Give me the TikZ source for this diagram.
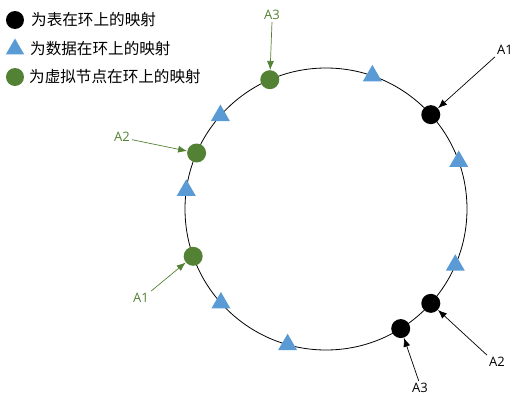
\documentclass[tikz,border=0pt]{standalone}
\usepackage{fontspec}
\newfontfamily\cjk{Noto Sans CJK SC}
\setmainfont{Open Sans}
\usetikzlibrary{arrows.meta,shapes.geometric}
\definecolor{ringblue}{HTML}{5B9BD5}
\definecolor{ringgreen}{HTML}{548235}
\begin{document}
\begin{tikzpicture}[x=1pt,y=1pt,
    tbl/.style={circle,fill=black,inner sep=0pt,minimum size=19pt},
    dat/.style={regular polygon,regular polygon sides=3,fill=ringblue,inner sep=0pt,minimum size=22pt},
    vnode/.style={circle,fill=ringgreen,inner sep=0pt,minimum size=19pt},
    lbl/.style={font=\fontsize{13}{15}\selectfont,inner sep=2pt},
    key/.style={anchor=west,font=\cjk\fontsize{15.6}{18}\selectfont,inner sep=0pt}]
        \def\diam{141pt}
        \useasboundingbox (-326,-199) rectangle (196,209);

        \draw[line width=0.8pt] (0,0) circle (\diam);

        % tables on the ring
        \node[tbl] (b1) at (42:\diam) {};
        \node[tbl] (b2) at (-42:\diam) {};
        \node[tbl] (b3) at (-58:\diam) {};

        % data on the ring
        \foreach \a [count=\i] in {70.8,138.5,172.4,19.7,-23.5,221.8,254.2} {
          \node[dat] (d\i) at (\a:\diam) {};
        }

        % virtual nodes
        \node[vnode] (g1) at (199.6:\diam) {};
        \node[vnode] (g2) at (156.6:\diam) {};
        \node[vnode] (g3) at (113.5:\diam) {};

        % labels
        \node[lbl] (lb1) at (179,159) {A1};
        \node[lbl] (lb2) at (171,-153) {A2};
        \node[lbl] (lb3) at (94,-179) {A3};
        \node[lbl,text=ringgreen] (lg1) at (-185,-89) {A1};
        \node[lbl,text=ringgreen] (lg2) at (-204,72) {A2};
        \node[lbl,text=ringgreen] (lg3) at (-54,194) {A3};

        \draw[-{Latex[length=9pt,width=7pt]},line width=0.7pt] (lb1.south west) -- (b1);
        \draw[-{Latex[length=9pt,width=7pt]},line width=0.7pt] (lb2.north west) -- (b2);
        \draw[-{Latex[length=9pt,width=7pt]},line width=0.7pt] (lb3.100) -- (b3);
        \draw[-{Latex[length=9pt,width=7pt]},line width=0.7pt,ringgreen] (lg1.north east) -- (g1);
        \draw[-{Latex[length=9pt,width=7pt]},line width=0.7pt,ringgreen] (lg2.-15) -- (g2);
        \draw[-{Latex[length=9pt,width=7pt]},line width=0.7pt,ringgreen] (lg3.south) -- (g3);

        % legend
        \node[tbl,minimum size=18pt] (k1) at (-311,189) {};
        \node[dat,minimum size=21pt] (k2) at (-311,160) {};
        \node[vnode,minimum size=18pt] (k3) at (-311,132) {};
        \node[key] (kt1) at (-295,189) {为表在环上的映射};
        \node[key] (kt2) at (-296,160) {为数据在环上的映射};
        \node[key] (kt3) at (-297,132) {为虚拟节点在环上的映射};
\end{tikzpicture}
\end{document}
